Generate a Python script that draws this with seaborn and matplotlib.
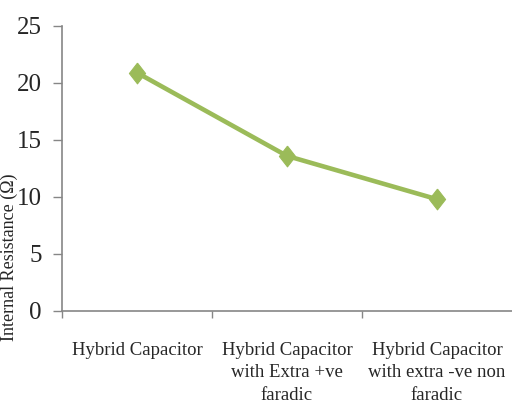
import pandas as pd
import matplotlib.pyplot as plt
import seaborn as sns

# ---- data ----
categories = [
    "Hybrid Capacitor",
    "Hybrid Capacitor\nwith Extra +ve\nfaradic",
    "Hybrid Capacitor\nwith extra -ve non\nfaradic",
]
resistance = [20.9, 13.6, 9.8]
y_ticks = [0, 5, 10, 15, 20, 25]

df = pd.DataFrame({"x": range(len(categories)), "r": resistance})

sns.set_theme(style="white")
plt.rcParams["font.family"] = ["Liberation Serif", "DejaVu Serif"]

fig = plt.figure(figsize=(5.12, 4.18), dpi=100)
ax = fig.add_axes([0.121, 0.256, 0.879, 0.682])

# slightly tall diamond like the original
tall_diamond = [(0, 1), (0.78, 0), (0, -1), (-0.78, 0), (0, 1)]
sns.lineplot(data=df, x="x", y="r", ax=ax, color="#9BBB59", linewidth=3.3,
             marker=tall_diamond, markersize=15, markeredgecolor="#9BBB59")

ax.set_xlim(-0.5, 2.5)
ax.set_ylim(0, 25)
ax.set_yticks(y_ticks)
ax.set_xticks(range(len(categories)))
ax.set_xticklabels(categories, fontsize=13.5, linespacing=1.45, va="top")
ax.set_xticks([-0.5, 0.5, 1.5], minor=True)
ax.tick_params(axis="y", labelsize=18, length=6.5, width=1, color="#868686",
               left=True, direction="out", pad=8)
ax.tick_params(axis="x", which="major", length=0, pad=22)
ax.tick_params(axis="x", which="minor", length=5, width=1, color="#868686",
               bottom=True, direction="out")
ax.set_xlabel("")
ax.set_ylabel("Internal Resistance (Ω)", fontsize=13)
ax.yaxis.set_label_coords(-0.097, 0.19, transform=ax.transAxes)

for s in ["top", "right"]:
    ax.spines[s].set_visible(False)
for s in ["left", "bottom"]:
    ax.spines[s].set_color("#868686")
    ax.spines[s].set_linewidth(1.2)

fig.savefig("out.png", dpi=100)
